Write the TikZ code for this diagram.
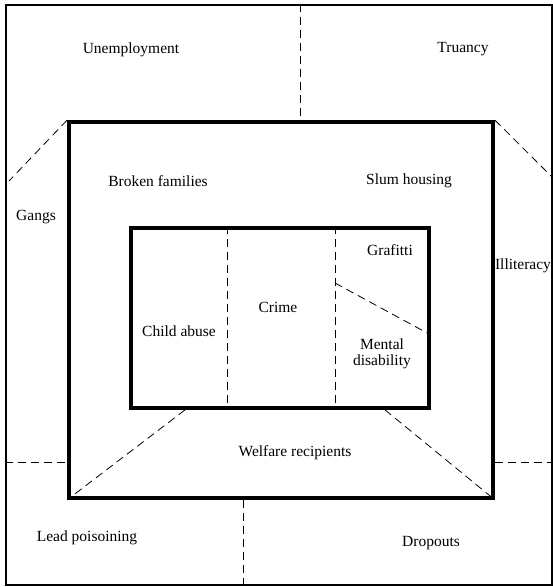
\documentclass[tikz,border=0pt]{standalone}
\usepackage{fontspec}
\setmainfont{Liberation Serif}
\begin{document}
\begin{tikzpicture}[x=1pt,y=-1pt,
  boxA/.style={draw, inner sep=0pt, line width=2.6pt},
  boxB/.style={draw, inner sep=0pt, line width=3.8pt},
  sep/.style={line width=0.8pt, dash pattern=on 8pt off 5pt},
  lbl/.style={font=\fontsize{15.5}{16.5}\selectfont, inner sep=0pt, align=center}]
\useasboundingbox (0,0) rectangle (553,587);
% frames
\node[boxA, minimum width=546pt, minimum height=580pt] (outer) at (279,295) {};
\node[boxB, minimum width=424pt, minimum height=376pt] (middle) at (281,310) {};
\node[boxB, minimum width=298pt, minimum height=180pt] (inner) at (280,318) {};
% helper coordinates
\coordinate (tx) at (300,0);
\coordinate (bx) at (243,0);
\coordinate (ly) at (0,462);
\coordinate (c1) at (227,0);
\coordinate (c2) at (335,0);
\coordinate (gA) at (9,181);
\coordinate (iA) at (551,176);
\coordinate (wL) at (185,0);
\coordinate (wR) at (385,0);
\coordinate (mA) at (335,283);
\coordinate (mB) at (429,334);
% dashed separators
\draw[sep] (outer.north -| tx) -- (middle.north -| tx);
\draw[sep] (middle.south -| bx) -- (outer.south -| bx);
\draw[sep] (outer.west |- ly) -- (middle.west |- ly);
\draw[sep] (middle.east |- ly) -- (outer.east |- ly);
\draw[sep] (middle.north west) -- (gA);
\draw[sep] (middle.north east) -- (iA);
\draw[sep] (inner.south -| wL) -- (middle.south west);
\draw[sep] (inner.south -| wR) -- (middle.south east);
\draw[sep] (inner.north -| c1) -- (inner.south -| c1);
\draw[sep] (inner.north -| c2) -- (inner.south -| c2);
\draw[sep] (mA) -- (mB);
% labels
\node[lbl] (unemp) at (131,50) {Unemployment};
\node[lbl] (truan) at (463,49) {Truancy};
\node[lbl] (broken) at (158,181) {Broken families};
\node[lbl] (slum) at (409,181) {Slum housing};
\node[lbl] (gangs) at (36,217) {Gangs};
\node[lbl] (illit) at (523,266) {Illiteracy};
\node[lbl] (graf) at (390,250) {Grafitti};
\node[lbl] (crime) at (278,307) {Crime};
\node[lbl] (child) at (179,331) {Child abuse};
\node[lbl] (mental) at (382,354) {Mental\\disability};
\node[lbl] (welfare) at (295,453) {Welfare recipients};
\node[lbl] (lead) at (87,538) {Lead poisoining};
\node[lbl] (drop) at (431,543) {Dropouts};
\end{tikzpicture}
\end{document}
